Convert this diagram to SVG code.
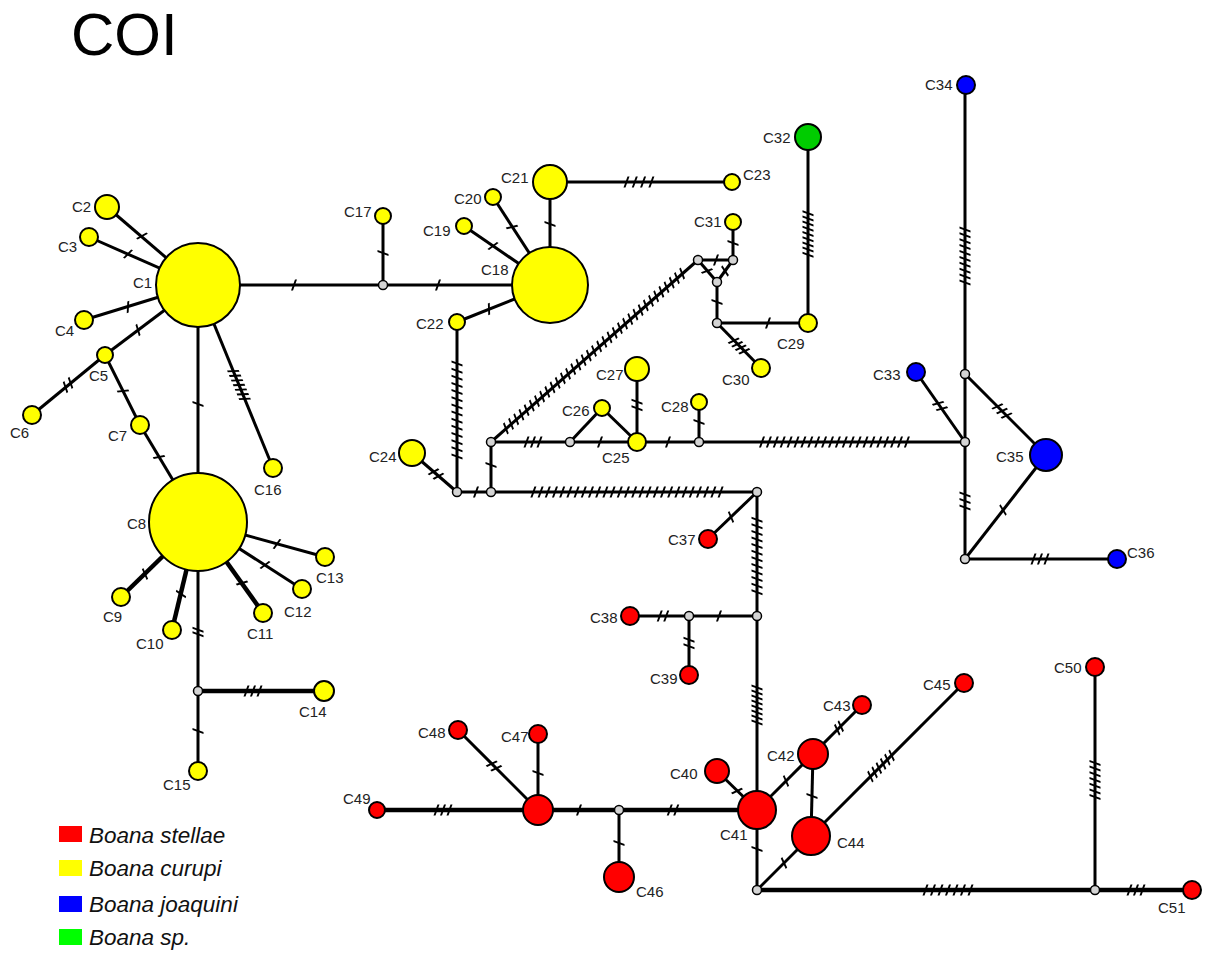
<svg xmlns="http://www.w3.org/2000/svg" width="1208" height="955" viewBox="0 0 1208 955">
<style>
.e{stroke:#000;stroke-width:3;fill:none}
.b{stroke:#000;stroke-width:4.5;fill:none}
.t{stroke:#000;stroke-width:11;fill:none;stroke-dasharray:2 4.5}
.n{stroke:#000;stroke-width:2}
.y{fill:#ffff00}.r{fill:#ff0000}.u{fill:#0000ff}.g{fill:#00cc00}
.j{fill:#d4d4d4;stroke:#000;stroke-width:1.5}
.l{font-family:"Liberation Sans",Arial,sans-serif;font-size:15px;fill:#222}
.lg{font-family:"Liberation Sans",Arial,sans-serif;font-size:22.5px;font-style:italic;fill:#111}
</style>
<rect width="1208" height="955" fill="#fff"/>
<text x="71" y="55" font-family="Liberation Sans, Arial, sans-serif" font-size="60" fill="#000">COI</text>
<g id="connectors">
<line class="e" x1="198" y1="285" x2="107" y2="207"/>
<line class="e" x1="198" y1="285" x2="89" y2="237"/>
<line class="e" x1="198" y1="285" x2="84" y2="320"/>
<line class="e" x1="198" y1="285" x2="105" y2="355"/>
<line class="e" x1="105" y1="355" x2="32" y2="415"/>
<line class="e" x1="105" y1="355" x2="140" y2="425"/>
<line class="e" x1="140" y1="425" x2="198" y2="522"/>
<line class="e" x1="198" y1="285" x2="198" y2="522"/>
<line class="e" x1="198" y1="285" x2="273" y2="468"/>
<line class="e" x1="198" y1="285" x2="383" y2="285"/>
<line class="b" x1="198" y1="522" x2="121" y2="597"/>
<line class="b" x1="198" y1="522" x2="172" y2="630"/>
<line class="b" x1="198" y1="522" x2="263" y2="613"/>
<line class="e" x1="198" y1="522" x2="302" y2="589"/>
<line class="e" x1="198" y1="522" x2="325" y2="557"/>
<line class="e" x1="198" y1="522" x2="198" y2="691"/>
<line class="b" x1="198" y1="691" x2="324" y2="691"/>
<line class="e" x1="198" y1="691" x2="198" y2="771"/>
<line class="e" x1="383" y1="285" x2="383" y2="216"/>
<line class="e" x1="383" y1="285" x2="550" y2="285"/>
<line class="e" x1="550" y1="285" x2="464" y2="226"/>
<line class="e" x1="550" y1="285" x2="493" y2="197"/>
<line class="e" x1="550" y1="285" x2="550" y2="182"/>
<line class="e" x1="550" y1="182" x2="732" y2="182"/>
<line class="e" x1="550" y1="285" x2="457" y2="322"/>
<line class="e" x1="457" y1="322" x2="457" y2="492"/>
<line class="e" x1="412" y1="453" x2="457" y2="492"/>
<line class="e" x1="457" y1="492" x2="491" y2="492"/>
<line class="e" x1="491" y1="492" x2="491" y2="442"/>
<line class="e" x1="491" y1="442" x2="698" y2="260"/>
<line class="e" x1="491" y1="442" x2="570" y2="442"/>
<line class="e" x1="570" y1="442" x2="602" y2="408"/>
<line class="e" x1="602" y1="408" x2="637" y2="442"/>
<line class="e" x1="570" y1="442" x2="637" y2="442"/>
<line class="e" x1="637" y1="442" x2="637" y2="369"/>
<line class="e" x1="637" y1="442" x2="699" y2="442"/>
<line class="e" x1="699" y1="442" x2="699" y2="402"/>
<line class="e" x1="699" y1="442" x2="965" y2="442"/>
<line class="e" x1="491" y1="492" x2="757" y2="492"/>
<line class="e" x1="757" y1="492" x2="708" y2="539"/>
<line class="e" x1="757" y1="492" x2="757" y2="616"/>
<line class="e" x1="757" y1="616" x2="689" y2="616"/>
<line class="e" x1="689" y1="616" x2="630" y2="616"/>
<line class="e" x1="689" y1="616" x2="689" y2="675"/>
<line class="e" x1="757" y1="616" x2="757" y2="810"/>
<line class="e" x1="757" y1="810" x2="717" y2="771"/>
<line class="e" x1="757" y1="810" x2="862" y2="705"/>
<line class="e" x1="813" y1="754" x2="811" y2="836"/>
<line class="e" x1="757" y1="890" x2="964" y2="683"/>
<line class="e" x1="757" y1="810" x2="757" y2="890"/>
<line class="b" x1="757" y1="890" x2="1095" y2="890"/>
<line class="e" x1="1095" y1="890" x2="1095" y2="667"/>
<line class="b" x1="1095" y1="890" x2="1192" y2="890"/>
<line class="b" x1="377" y1="810" x2="538" y2="810"/>
<line class="e" x1="538" y1="810" x2="458" y2="730"/>
<line class="e" x1="538" y1="810" x2="538" y2="734"/>
<line class="b" x1="538" y1="810" x2="619" y2="810"/>
<line class="e" x1="619" y1="810" x2="619" y2="877"/>
<line class="b" x1="619" y1="810" x2="757" y2="810"/>
<line class="e" x1="698" y1="260" x2="733" y2="260"/>
<line class="e" x1="698" y1="260" x2="717" y2="282"/>
<line class="e" x1="733" y1="260" x2="717" y2="282"/>
<line class="e" x1="733" y1="260" x2="733" y2="222"/>
<line class="e" x1="717" y1="282" x2="717" y2="323"/>
<line class="e" x1="717" y1="323" x2="808" y2="323"/>
<line class="e" x1="717" y1="323" x2="761" y2="368"/>
<line class="e" x1="808" y1="323" x2="808" y2="137"/>
<line class="e" x1="965" y1="85" x2="965" y2="559"/>
<line class="e" x1="916" y1="372" x2="965" y2="442"/>
<line class="e" x1="965" y1="374" x2="1046" y2="455"/>
<line class="e" x1="965" y1="559" x2="1046" y2="455"/>
<line class="e" x1="965" y1="559" x2="1117" y2="559"/>
<g id="ticks">
<line class="t" x1="-1" x2="1" y1="0" y2="0" transform="translate(142 236) rotate(41) skewX(-20)"/>
<line class="t" x1="-1" x2="1" y1="0" y2="0" transform="translate(128 254) rotate(24) skewX(-20)"/>
<line class="t" x1="-1" x2="1" y1="0" y2="0" transform="translate(128 307) rotate(-17) skewX(-20)"/>
<line class="t" x1="-1" x2="1" y1="0" y2="0" transform="translate(138 330) rotate(-37) skewX(-20)"/>
<line class="t" x1="-4.25" x2="4.25" y1="0" y2="0" transform="translate(68 385) rotate(-39) skewX(-20)"/>
<line class="t" x1="-1" x2="1" y1="0" y2="0" transform="translate(123 391) rotate(63) skewX(-20)"/>
<line class="t" x1="-1" x2="1" y1="0" y2="0" transform="translate(159 457) rotate(59) skewX(-20)"/>
<line class="t" x1="-1" x2="1" y1="0" y2="0" transform="translate(198 404) rotate(90) skewX(-20)"/>
<line class="t" style="stroke-dasharray:2 3" x1="-16" x2="16" y1="0" y2="0" transform="translate(239 385) rotate(67.6) skewX(-20)"/>
<line class="t" x1="-1" x2="1" y1="0" y2="0" transform="translate(294 285) rotate(0) skewX(-20)"/>
<line class="t" x1="-1" x2="1" y1="0" y2="0" transform="translate(145 574) rotate(-44) skewX(-20)"/>
<line class="t" x1="-1" x2="1" y1="0" y2="0" transform="translate(181 594) rotate(103.5) skewX(-20)"/>
<line class="t" x1="-1" x2="1" y1="0" y2="0" transform="translate(242 583) rotate(54.5) skewX(-20)"/>
<line class="t" x1="-1" x2="1" y1="0" y2="0" transform="translate(265 565) rotate(33) skewX(-20)"/>
<line class="t" x1="-1" x2="1" y1="0" y2="0" transform="translate(277 544) rotate(15) skewX(-20)"/>
<line class="t" style="stroke-dasharray:2 2.5" x1="-3.25" x2="3.25" y1="0" y2="0" transform="translate(198 632) rotate(90) skewX(-20)"/>
<line class="t" x1="-7.5" x2="7.5" y1="0" y2="0" transform="translate(253 691) rotate(0) skewX(-20)"/>
<line class="t" x1="-1" x2="1" y1="0" y2="0" transform="translate(198 731) rotate(90) skewX(-20)"/>
<line class="t" x1="-1" x2="1" y1="0" y2="0" transform="translate(383 253) rotate(90) skewX(-20)"/>
<line class="t" x1="-1" x2="1" y1="0" y2="0" transform="translate(438 285) rotate(0) skewX(-20)"/>
<line class="t" x1="-1" x2="1" y1="0" y2="0" transform="translate(493 246) rotate(34) skewX(-20)"/>
<line class="t" x1="-1" x2="1" y1="0" y2="0" transform="translate(512 227) rotate(57) skewX(-20)"/>
<line class="t" x1="-1" x2="1" y1="0" y2="0" transform="translate(550 224) rotate(90) skewX(-20)"/>
<line class="t" style="stroke-dasharray:2 6.3" x1="-13.5" x2="13.5" y1="0" y2="0" transform="translate(639 182) rotate(0) skewX(-20)"/>
<line class="t" x1="-1" x2="1" y1="0" y2="0" transform="translate(489 309) rotate(-22) skewX(-20)"/>
<line class="t" style="stroke-dasharray:2 5.15" x1="-47.5" x2="47.5" y1="0" y2="0" transform="translate(457 410) rotate(90) skewX(-20)"/>
<line class="t" x1="-4.25" x2="4.25" y1="0" y2="0" transform="translate(436 474) rotate(41) skewX(-20)"/>
<line class="t" x1="-1" x2="1" y1="0" y2="0" transform="translate(476 492) rotate(0) skewX(-20)"/>
<line class="t" x1="-1" x2="1" y1="0" y2="0" transform="translate(491 465) rotate(90) skewX(-20)"/>
<line class="t" style="stroke-dasharray:2 4.9" x1="-118.3" x2="118.3" y1="0" y2="0" transform="translate(594 351) rotate(-41.3) skewX(-20)"/>
<line class="t" x1="-7.5" x2="7.5" y1="0" y2="0" transform="translate(533 442) rotate(0) skewX(-20)"/>
<line class="t" x1="-1" x2="1" y1="0" y2="0" transform="translate(600 442) rotate(0) skewX(-20)"/>
<line class="t" x1="-4.25" x2="4.25" y1="0" y2="0" transform="translate(637 405) rotate(90) skewX(-20)"/>
<line class="t" x1="-1" x2="1" y1="0" y2="0" transform="translate(668 442) rotate(0) skewX(-20)"/>
<line class="t" x1="-1" x2="1" y1="0" y2="0" transform="translate(699 422) rotate(90) skewX(-20)"/>
<line class="t" style="stroke-dasharray:2 4.9" x1="-73.5" x2="73.5" y1="0" y2="0" transform="translate(834.5 442) rotate(0) skewX(-20)"/>
<line class="t" style="stroke-dasharray:2 5.2" x1="-94.6" x2="94.6" y1="0" y2="0" transform="translate(627 492) rotate(0) skewX(-20)"/>
<line class="t" x1="-1" x2="1" y1="0" y2="0" transform="translate(731 517) rotate(-44) skewX(-20)"/>
<line class="t" style="stroke-dasharray:2 4.6" x1="-37.3" x2="37.3" y1="0" y2="0" transform="translate(757 556) rotate(90) skewX(-20)"/>
<line class="t" x1="-1" x2="1" y1="0" y2="0" transform="translate(719 616) rotate(0) skewX(-20)"/>
<line class="t" x1="-4.25" x2="4.25" y1="0" y2="0" transform="translate(663 616) rotate(0) skewX(-20)"/>
<line class="t" x1="-4.25" x2="4.25" y1="0" y2="0" transform="translate(689 643) rotate(90) skewX(-20)"/>
<line class="t" style="stroke-dasharray:2 3" x1="-18.5" x2="18.5" y1="0" y2="0" transform="translate(757 705) rotate(90) skewX(-20)"/>
<line class="t" x1="-1" x2="1" y1="0" y2="0" transform="translate(737 791) rotate(44) skewX(-20)"/>
<line class="t" x1="-1" x2="1" y1="0" y2="0" transform="translate(786 781) rotate(-44) skewX(-20)"/>
<line class="t" style="stroke-dasharray:2 3" x1="-3.5" x2="3.5" y1="0" y2="0" transform="translate(839 728) rotate(-45) skewX(-20)"/>
<line class="t" x1="-1" x2="1" y1="0" y2="0" transform="translate(812 796) rotate(90) skewX(-20)"/>
<line class="t" style="stroke-dasharray:2 4" x1="-16" x2="16" y1="0" y2="0" transform="translate(881 766) rotate(-45) skewX(-20)"/>
<line class="t" x1="-1" x2="1" y1="0" y2="0" transform="translate(784 863) rotate(-45) skewX(-20)"/>
<line class="t" x1="-1" x2="1" y1="0" y2="0" transform="translate(757 849) rotate(90) skewX(-20)"/>
<line class="t" style="stroke-dasharray:2 5.5" x1="-23.5" x2="23.5" y1="0" y2="0" transform="translate(948 890) rotate(0) skewX(-20)"/>
<line class="t" style="stroke-dasharray:2 3.7" x1="-18.1" x2="18.1" y1="0" y2="0" transform="translate(1095 780) rotate(90) skewX(-20)"/>
<line class="t" x1="-7.5" x2="7.5" y1="0" y2="0" transform="translate(1136 890) rotate(0) skewX(-20)"/>
<line class="t" x1="-7.5" x2="7.5" y1="0" y2="0" transform="translate(443 810) rotate(0) skewX(-20)"/>
<line class="t" x1="-4.25" x2="4.25" y1="0" y2="0" transform="translate(494 766) rotate(45) skewX(-20)"/>
<line class="t" x1="-1" x2="1" y1="0" y2="0" transform="translate(538 773) rotate(90) skewX(-20)"/>
<line class="t" x1="-1" x2="1" y1="0" y2="0" transform="translate(579 810) rotate(0) skewX(-20)"/>
<line class="t" x1="-1" x2="1" y1="0" y2="0" transform="translate(619 843) rotate(90) skewX(-20)"/>
<line class="t" x1="-4.25" x2="4.25" y1="0" y2="0" transform="translate(673 810) rotate(0) skewX(-20)"/>
<line class="t" x1="-1" x2="1" y1="0" y2="0" transform="translate(716 260) rotate(0) skewX(-20)"/>
<line class="t" x1="-1" x2="1" y1="0" y2="0" transform="translate(707 271) rotate(49) skewX(-20)"/>
<line class="t" x1="-1" x2="1" y1="0" y2="0" transform="translate(725 271) rotate(-54) skewX(-20)"/>
<line class="t" x1="-1" x2="1" y1="0" y2="0" transform="translate(733 243) rotate(90) skewX(-20)"/>
<line class="t" x1="-1" x2="1" y1="0" y2="0" transform="translate(717 302) rotate(90) skewX(-20)"/>
<line class="t" x1="-1" x2="1" y1="0" y2="0" transform="translate(768 323) rotate(0) skewX(-20)"/>
<line class="t" style="stroke-dasharray:2 3" x1="-8.5" x2="8.5" y1="0" y2="0" transform="translate(739 346) rotate(45) skewX(-20)"/>
<line class="t" style="stroke-dasharray:2 3.2" x1="-21.8" x2="21.8" y1="0" y2="0" transform="translate(808 234) rotate(90) skewX(-20)"/>
<line class="t" style="stroke-dasharray:2 3.9" x1="-27.6" x2="27.6" y1="0" y2="0" transform="translate(965 256) rotate(90) skewX(-20)"/>
<line class="t" x1="-4.25" x2="4.25" y1="0" y2="0" transform="translate(940 406) rotate(54.6) skewX(-20)"/>
<line class="t" x1="-7.5" x2="7.5" y1="0" y2="0" transform="translate(1002 411) rotate(45) skewX(-20)"/>
<line class="t" x1="-7.5" x2="7.5" y1="0" y2="0" transform="translate(965 501) rotate(90) skewX(-20)"/>
<line class="t" x1="-1" x2="1" y1="0" y2="0" transform="translate(1003 510) rotate(-52) skewX(-20)"/>
<line class="t" x1="-7.5" x2="7.5" y1="0" y2="0" transform="translate(1040 559) rotate(0) skewX(-20)"/>
</g>
</g>
<g id="junctions">
<circle id="Ja" class="j" cx="198" cy="691" r="4.5"/>
<circle id="J1" class="j" cx="383" cy="285" r="4.5"/>
<circle id="J2" class="j" cx="457" cy="492" r="4.5"/>
<circle id="J3" class="j" cx="491" cy="492" r="4.5"/>
<circle id="J4" class="j" cx="491" cy="442" r="4.5"/>
<circle id="J5" class="j" cx="698" cy="260" r="4.5"/>
<circle id="J6" class="j" cx="570" cy="442" r="4.5"/>
<circle id="J7" class="j" cx="699" cy="442" r="4.5"/>
<circle id="J8" class="j" cx="965" cy="442" r="4.5"/>
<circle id="J9" class="j" cx="757" cy="492" r="4.5"/>
<circle id="J10" class="j" cx="733" cy="260" r="4.5"/>
<circle id="J11" class="j" cx="717" cy="282" r="4.5"/>
<circle id="J12" class="j" cx="717" cy="323" r="4.5"/>
<circle id="J13" class="j" cx="965" cy="374" r="4.5"/>
<circle id="J14" class="j" cx="965" cy="559" r="4.5"/>
<circle id="J15" class="j" cx="757" cy="616" r="4.5"/>
<circle id="J16" class="j" cx="689" cy="616" r="4.5"/>
<circle id="J17" class="j" cx="757" cy="890" r="4.5"/>
<circle id="J18" class="j" cx="1095" cy="890" r="4.5"/>
<circle id="J19" class="j" cx="619" cy="810" r="4.5"/>
</g>
<g id="C1"><circle class="n y" cx="198" cy="285" r="42"/><text class="l" x="133" y="288">C1</text></g>
<g id="C2"><circle class="n y" cx="107" cy="207" r="12"/><text class="l" x="72" y="212">C2</text></g>
<g id="C3"><circle class="n y" cx="89" cy="237" r="9"/><text class="l" x="58" y="252">C3</text></g>
<g id="C4"><circle class="n y" cx="84" cy="320" r="9"/><text class="l" x="55" y="336">C4</text></g>
<g id="C5"><circle class="n y" cx="105" cy="355" r="8"/><text class="l" x="89" y="381">C5</text></g>
<g id="C6"><circle class="n y" cx="32" cy="415" r="9"/><text class="l" x="10" y="438">C6</text></g>
<g id="C7"><circle class="n y" cx="140" cy="425" r="9"/><text class="l" x="108" y="441">C7</text></g>
<g id="C8"><circle class="n y" cx="198" cy="522" r="49"/><text class="l" x="127" y="529">C8</text></g>
<g id="C9"><circle class="n y" cx="121" cy="597" r="9"/><text class="l" x="103" y="622">C9</text></g>
<g id="C10"><circle class="n y" cx="172" cy="630" r="9"/><text class="l" x="136" y="649">C10</text></g>
<g id="C11"><circle class="n y" cx="263" cy="613" r="9"/><text class="l" x="247" y="639">C11</text></g>
<g id="C12"><circle class="n y" cx="302" cy="589" r="9"/><text class="l" x="284" y="617">C12</text></g>
<g id="C13"><circle class="n y" cx="325" cy="557" r="9"/><text class="l" x="316" y="583">C13</text></g>
<g id="C14"><circle class="n y" cx="324" cy="691" r="10"/><text class="l" x="299" y="717">C14</text></g>
<g id="C15"><circle class="n y" cx="198" cy="771" r="9"/><text class="l" x="163" y="790">C15</text></g>
<g id="C16"><circle class="n y" cx="273" cy="468" r="9"/><text class="l" x="254" y="495">C16</text></g>
<g id="C17"><circle class="n y" cx="383" cy="216" r="8"/><text class="l" x="344" y="217">C17</text></g>
<g id="C18"><circle class="n y" cx="550" cy="285" r="38"/><text class="l" x="481" y="275">C18</text></g>
<g id="C19"><circle class="n y" cx="464" cy="226" r="8"/><text class="l" x="423" y="236">C19</text></g>
<g id="C20"><circle class="n y" cx="493" cy="197" r="8"/><text class="l" x="454" y="204">C20</text></g>
<g id="C21"><circle class="n y" cx="550" cy="182" r="17"/><text class="l" x="501" y="183">C21</text></g>
<g id="C22"><circle class="n y" cx="457" cy="322" r="8"/><text class="l" x="416" y="329">C22</text></g>
<g id="C23"><circle class="n y" cx="732" cy="182" r="8"/><text class="l" x="743" y="180">C23</text></g>
<g id="C24"><circle class="n y" cx="412" cy="453" r="13"/><text class="l" x="369" y="462">C24</text></g>
<g id="C25"><circle class="n y" cx="637" cy="442" r="9"/><text class="l" x="602" y="463">C25</text></g>
<g id="C26"><circle class="n y" cx="602" cy="408" r="8"/><text class="l" x="562" y="416">C26</text></g>
<g id="C27"><circle class="n y" cx="637" cy="369" r="12"/><text class="l" x="596" y="380">C27</text></g>
<g id="C28"><circle class="n y" cx="699" cy="402" r="8"/><text class="l" x="661" y="412">C28</text></g>
<g id="C29"><circle class="n y" cx="808" cy="323" r="9"/><text class="l" x="777" y="349">C29</text></g>
<g id="C30"><circle class="n y" cx="761" cy="368" r="9"/><text class="l" x="722" y="385">C30</text></g>
<g id="C31"><circle class="n y" cx="733" cy="222" r="8"/><text class="l" x="694" y="227">C31</text></g>
<g id="C32"><circle class="n g" cx="808" cy="137" r="13"/><text class="l" x="763" y="143">C32</text></g>
<g id="C33"><circle class="n u" cx="916" cy="372" r="9"/><text class="l" x="873" y="380">C33</text></g>
<g id="C34"><circle class="n u" cx="966" cy="85" r="9"/><text class="l" x="925" y="90">C34</text></g>
<g id="C35"><circle class="n u" cx="1046" cy="455" r="16"/><text class="l" x="996" y="462">C35</text></g>
<g id="C36"><circle class="n u" cx="1117" cy="559" r="9"/><text class="l" x="1127" y="558">C36</text></g>
<g id="C37"><circle class="n r" cx="708" cy="539" r="9"/><text class="l" x="668" y="545">C37</text></g>
<g id="C38"><circle class="n r" cx="630" cy="616" r="9"/><text class="l" x="590" y="623">C38</text></g>
<g id="C39"><circle class="n r" cx="689" cy="675" r="9"/><text class="l" x="650" y="684">C39</text></g>
<g id="C40"><circle class="n r" cx="717" cy="771" r="12"/><text class="l" x="670" y="779">C40</text></g>
<g id="C41"><circle class="n r" cx="757" cy="810" r="19"/><text class="l" x="720" y="840">C41</text></g>
<g id="C42"><circle class="n r" cx="813" cy="754" r="15"/><text class="l" x="767" y="761">C42</text></g>
<g id="C43"><circle class="n r" cx="862" cy="705" r="9"/><text class="l" x="823" y="711">C43</text></g>
<g id="C44"><circle class="n r" cx="811" cy="836" r="19"/><text class="l" x="837" y="848">C44</text></g>
<g id="C45"><circle class="n r" cx="964" cy="683" r="9"/><text class="l" x="923" y="690">C45</text></g>
<g id="C46"><circle class="n r" cx="619" cy="877" r="15"/><text class="l" x="636" y="897">C46</text></g>
<g id="C47"><circle class="n r" cx="538" cy="734" r="9"/><text class="l" x="501" y="742">C47</text></g>
<g id="C48"><circle class="n r" cx="458" cy="730" r="9"/><text class="l" x="418" y="738">C48</text></g>
<g id="C49"><circle class="n r" cx="377" cy="810" r="8"/><text class="l" x="343" y="804">C49</text></g>
<g id="Cm"><circle class="n r" cx="538" cy="810" r="15"/></g>
<g id="C50"><circle class="n r" cx="1095" cy="667" r="9"/><text class="l" x="1054" y="673">C50</text></g>
<g id="C51"><circle class="n r" cx="1192" cy="890" r="9"/><text class="l" x="1158" y="913">C51</text></g>
<g id="legend">
<rect x="59" y="826" width="23" height="16" fill="#ff0000"/>
<rect x="59" y="860" width="23" height="16" fill="#ffff00"/>
<rect x="59" y="896" width="23" height="16" fill="#0000ff"/>
<rect x="59" y="929" width="23" height="16" fill="#00ff00"/>
<text class="lg" x="89" y="843">Boana stellae</text>
<text class="lg" x="89" y="876">Boana curupi</text>
<text class="lg" x="89" y="912">Boana joaquini</text>
<text class="lg" x="89" y="945">Boana sp.</text>
</g>
</svg>
